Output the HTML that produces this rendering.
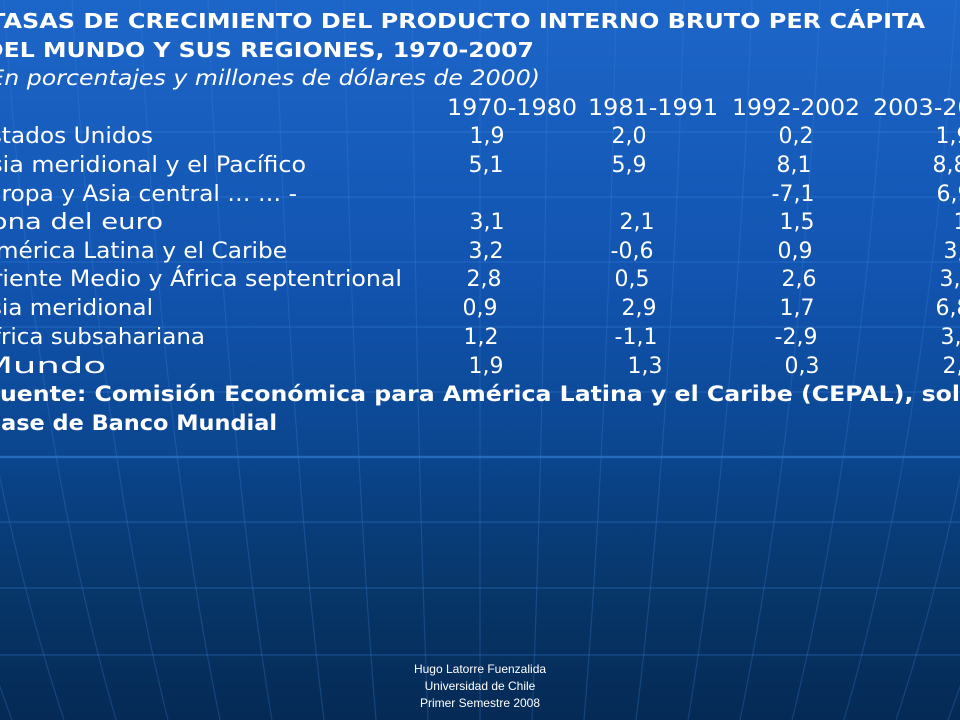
<!DOCTYPE html>
<html><head><meta charset="utf-8"><style>
html,body{margin:0;padding:0;width:960px;height:720px;overflow:hidden;background:#0b4a9a}
svg{display:block}
</style></head><body>
<svg id="slide" width="960" height="720" viewBox="0 0 960 720" xmlns="http://www.w3.org/2000/svg" font-family="'DejaVu Sans','Liberation Sans',sans-serif" fill="#fff">
<defs>
<linearGradient id="bg" x1="0" y1="0" x2="0" y2="1">
<stop offset="0" stop-color="#1d66c9"/>
<stop offset="0.4" stop-color="#1153ae"/>
<stop offset="0.62" stop-color="#0b4690"/>
<stop offset="0.82" stop-color="#073669"/>
<stop offset="1" stop-color="#052a55"/>
</linearGradient>
</defs>
<rect x="0" y="0" width="960" height="720" fill="url(#bg)"/>
<g id="grid" stroke="#3d86e0" fill="none"></g>

<text x="-11" y="28" font-size="20" font-weight="bold" textLength="936" lengthAdjust="spacingAndGlyphs">TASAS DE CRECIMIENTO DEL PRODUCTO INTERNO BRUTO PER CÁPITA</text>
<text x="-16" y="57" font-size="20" font-weight="bold" textLength="550" lengthAdjust="spacingAndGlyphs">DEL MUNDO Y SUS REGIONES, 1970-2007</text>
<text x="-20" y="85" font-size="21" font-style="italic" textLength="560" lengthAdjust="spacingAndGlyphs">(En porcentajes y millones de dólares de 2000)</text>

<g font-size="22">
<text x="447" y="115" textLength="130" lengthAdjust="spacingAndGlyphs">1970-1980</text>
<text x="588" y="115" textLength="130" lengthAdjust="spacingAndGlyphs">1981-1991</text>
<text x="732" y="115" textLength="128" lengthAdjust="spacingAndGlyphs">1992-2002</text>
<text x="873" y="115" textLength="130" lengthAdjust="spacingAndGlyphs">2003-2007</text>
</g>

<g font-size="22">
<text x="-25" y="143" textLength="178" lengthAdjust="spacingAndGlyphs">Estados Unidos</text>
<text x="-26" y="172" textLength="332" lengthAdjust="spacingAndGlyphs">Asia meridional y el Pacífico</text>
<text x="-28" y="201" textLength="325" lengthAdjust="spacingAndGlyphs">Europa y Asia central … … -</text>
<text x="-28" y="229" textLength="191" lengthAdjust="spacingAndGlyphs">Zona del euro</text>
<text x="-20" y="258" textLength="307" lengthAdjust="spacingAndGlyphs">América Latina y el Caribe</text>
<text x="-26" y="286" textLength="428" lengthAdjust="spacingAndGlyphs">Oriente Medio y África septentrional</text>
<text x="-26" y="315" textLength="179" lengthAdjust="spacingAndGlyphs">Asia meridional</text>
<text x="-22" y="344" textLength="227" lengthAdjust="spacingAndGlyphs">África subsahariana</text>
<text x="-19" y="373" textLength="125" lengthAdjust="spacingAndGlyphs">Mundo</text>
</g>

<g font-size="22" text-anchor="middle">
<text x="487" y="143">1,9</text>
<text x="629" y="143">2,0</text>
<text x="796" y="143">0,2</text>
<text x="953" y="143">1,9</text>
<text x="486" y="172">5,1</text>
<text x="629" y="172">5,9</text>
<text x="794" y="172">8,1</text>
<text x="950" y="172">8,8</text>
<text x="793" y="201">-7,1</text>
<text x="954" y="201">6,9</text>
<text x="487" y="229">3,1</text>
<text x="637" y="229">2,1</text>
<text x="797" y="229">1,5</text>
<text x="971" y="229">1,6</text>
<text x="486" y="258">3,2</text>
<text x="632" y="258">-0,6</text>
<text x="795" y="258">0,9</text>
<text x="961" y="258">3,9</text>
<text x="484" y="286">2,8</text>
<text x="632" y="286">0,5</text>
<text x="799" y="286">2,6</text>
<text x="957" y="286">3,3</text>
<text x="480" y="315">0,9</text>
<text x="639" y="315">2,9</text>
<text x="797" y="315">1,7</text>
<text x="953" y="315">6,8</text>
<text x="481" y="344">1,2</text>
<text x="636" y="344">-1,1</text>
<text x="796" y="344">-2,9</text>
<text x="958" y="344">3,4</text>
<text x="486" y="373">1,9</text>
<text x="645" y="373">1,3</text>
<text x="802" y="373">0,3</text>
<text x="960" y="373">2,9</text>
</g>

<text x="-15" y="401" font-size="21" font-weight="bold" textLength="975" lengthAdjust="spacingAndGlyphs">Fuente: Comisión Económica para América Latina y el Caribe (CEPAL), sol</text>
<text x="962" y="401" font-size="21" font-weight="bold">bre la</text>
<text x="-16" y="430" font-size="21" font-weight="bold" textLength="293" lengthAdjust="spacingAndGlyphs">Base de Banco Mundial</text>

<g font-family="'Liberation Sans',sans-serif" font-size="12" text-anchor="middle">
<text x="480" y="673">Hugo Latorre Fuenzalida</text>
<text x="480" y="690">Universidad de Chile</text>
<text x="480" y="707">Primer Semestre 2008</text>
</g>
</svg>
<script>
const grid = document.getElementById('grid');
const NS = 'http://www.w3.org/2000/svg';
const latY = [132,197,262,327,392,457,522,588,655];
latY.forEach(y => {
  const l = document.createElementNS(NS, 'line');
  
  
  l.setAttribute('x1', 0); l.setAttribute('x2', 960);
  l.setAttribute('y1', y); l.setAttribute('y2', y);
  l.setAttribute('stroke-width', y===457 ? 2.5 : 1.5);
  l.setAttribute('stroke-opacity', y===457 ? 0.55 : 0.3);
  grid.appendChild(l);
});
for (let i = -9; i <= 9; i++) {
  const xt = 480 + i * 68, xb = 480 + i * 52, xm = 480 + i * 64;
  const p = document.createElementNS(NS, 'path');
  
  
  p.setAttribute('d', `M${xt},0 Q${xm},430 ${xb},720`);
  p.setAttribute('stroke-width', 1.2);
  p.setAttribute('stroke-opacity', 0.28);
  grid.appendChild(p);
}
</script>
</body></html>
